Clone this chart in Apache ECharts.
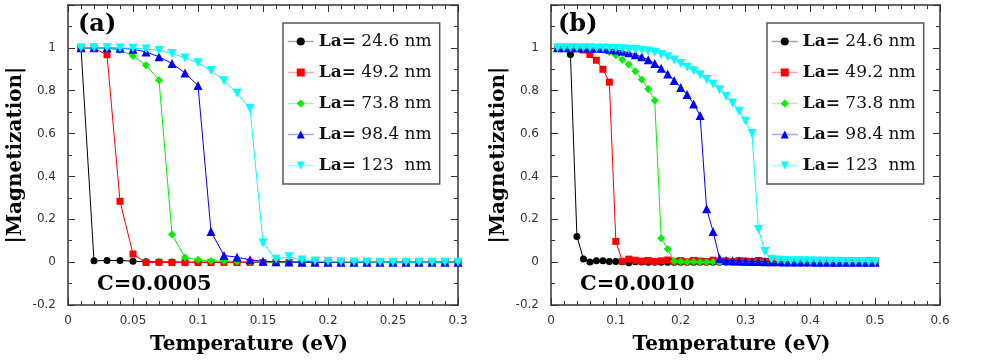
<!DOCTYPE html>
<html>
<head>
<meta charset="utf-8">
<script src="https://cdn.jsdelivr.net/npm/echarts@6/dist/echarts.min.js"></script>
<style>
  html, body { margin: 0; padding: 0; background: #fff; }
  #myChart { width: 993px; height: 360px; }
</style>
</head>
<body>
<div id="myChart"></div>
<script>
// 图例名称 (La 数值)
var sizeNames = ['24.6', '49.2', '73.8', '98.4', '123 '];

// (a) C=0.0005 温度点
var tempA = [0.01, 0.02, 0.03, 0.04, 0.05, 0.06, 0.07, 0.08, 0.09, 0.10,
             0.11, 0.12, 0.13, 0.14, 0.15, 0.16, 0.17, 0.18, 0.19, 0.20,
             0.21, 0.22, 0.23, 0.24, 0.25, 0.26, 0.27, 0.28, 0.29, 0.30];
var magA24 = [1.0, 0.006, 0.008, 0.008, 0.004, 0.002, 0.001, 0.001, 0, 0,
              0, 0, 0, 0, 0, 0, 0, 0, 0, 0,
              0, 0, 0, 0, 0, 0, 0, 0, 0, 0];
var magA49 = [1.0, 0.997, 0.968, 0.284, 0.038, -0.002, -0.001, -0.002, -0.002, -0.001,
              -0.002, -0.001, -0.002, -0.001, -0.002, -0.002, -0.001, -0.002, -0.001, -0.002,
              -0.001, -0.002, -0.001, -0.002, -0.001, -0.002, -0.002, -0.001, -0.002, -0.001];
var magA73 = [1.0, 1.0, 0.998, 0.990, 0.962, 0.919, 0.849, 0.129, 0.022, 0.011,
              0.005, 0.005, 0.003, 0.002, 0.001, 0, 0, 0, 0, 0,
              0, 0, 0, 0, 0, 0, 0, 0, 0, 0];
var magA98 = [1.0, 1.0, 1.0, 0.998, 0.994, 0.981, 0.958, 0.927, 0.883, 0.824,
              0.143, 0.031, 0.023, 0.011, 0.004, 0.002, 0.001, 0, 0, 0,
              0, 0, 0, 0, 0, 0, 0, 0, 0, 0];
var magA123 = [1.0, 1.0, 1.0, 0.999, 0.998, 0.995, 0.988, 0.974, 0.953, 0.930,
               0.894, 0.847, 0.788, 0.717, 0.089, 0.014, 0.025, 0.010, 0.005, 0.003,
               0.002, 0.001, 0.001, 0, 0, 0, 0, 0, 0, 0];

// (b) C=0.0010 温度点
var tempB = [0.01, 0.02, 0.03, 0.04, 0.05, 0.06, 0.07, 0.08, 0.09, 0.10,
             0.11, 0.12, 0.13, 0.14, 0.15, 0.16, 0.17, 0.18, 0.19, 0.20,
             0.21, 0.22, 0.23, 0.24, 0.25, 0.26, 0.27, 0.28, 0.29, 0.30,
             0.31, 0.32, 0.33, 0.34, 0.35, 0.36, 0.37, 0.38, 0.39, 0.40,
             0.41, 0.42, 0.43, 0.44, 0.45, 0.46, 0.47, 0.48, 0.49, 0.50];
var magB24 = [1.0, 0.999, 0.969, 0.120, 0.015, 0.001, 0.007, 0.006, 0.003, 0.003,
              0.002, -0.003, 0.002, 0.001, 0, 0, 0, 0, 0, 0,
              0, 0, 0, 0, 0, 0, 0, 0, 0, 0,
              0, 0, 0, 0, 0, 0, 0, 0, 0, 0,
              0, 0, 0, 0, 0, 0, 0, 0, 0, 0];
var magB49 = [1.0, 1.0, 0.999, 0.996, 0.990, 0.969, 0.942, 0.900, 0.840, 0.097,
              0.004, 0.014, 0.009, 0.005, 0.008, 0.003, 0.006, 0.010, 0.004, 0.007,
              0.002, 0.008, 0.005, 0.003, 0.009, 0.004, 0.006, 0.002, 0.007, 0.005,
              0.003, 0.008, 0.004, 0.006, 0.002, 0.007, 0.005, 0.009, 0.003, 0.006,
              0.004, 0.008, 0.002, 0.005, 0.007, 0.003, 0.006, 0.004, 0.008, 0.005];
var magB73 = [1.0, 1.0, 1.0, 1.0, 0.999, 0.998, 0.996, 0.991, 0.981, 0.965,
              0.945, 0.922, 0.891, 0.852, 0.808, 0.754, 0.112, 0.061, 0.004, 0.002,
              0.001, 0.002, 0.001, 0.001, 0.001, 0, 0, 0, 0, 0,
              0, 0, 0, 0, 0, 0, 0, 0, 0, 0,
              0, 0, 0, 0, 0, 0, 0, 0, 0, 0];
var magB98 = [1.0, 1.0, 1.0, 1.0, 0.999, 0.999, 0.998, 0.997, 0.994, 0.990,
              0.984, 0.977, 0.968, 0.958, 0.945, 0.927, 0.905, 0.878, 0.848, 0.815,
              0.782, 0.738, 0.684, 0.249, 0.143, 0.017, 0.008, 0.006, 0.005, 0.004,
              0.003, 0.003, 0.002, 0.002, 0.002, 0.001, 0.001, 0.001, 0.001, 0.001,
              0, 0, 0, 0, 0, 0, 0, 0, 0, 0];
var magB123 = [1.0, 1.0, 1.0, 1.0, 1.0, 1.0, 0.999, 0.999, 0.998, 0.997,
               0.996, 0.994, 0.992, 0.989, 0.985, 0.979, 0.969, 0.958, 0.943, 0.927,
               0.910, 0.893, 0.874, 0.852, 0.830, 0.805, 0.774, 0.743, 0.704, 0.657,
               0.600, 0.152, 0.050, 0.014, 0.010, 0.008, 0.007, 0.006, 0.006, 0.005,
               0.005, 0.004, 0.004, 0.004, 0.003, 0.003, 0.003, 0.003, 0.002, 0.002];

var colors = ['#000000', '#ff0000', '#00ee00', '#0000ff', '#00ffff'];
var symbols = ['circle', 'rect', 'diamond', 'triangle', 'triangle'];
var symbolSizes = [7, 7, 8, 9, 9];
var symbolRotates = [0, 0, 0, 0, 180];

function pairs(xs, ys) {
  var out = [];
  for (var i = 0; i < xs.length; i++) out.push([xs[i], ys[i]]);
  return out;
}

function makeSeries(idx, temps, vals, axisIdx) {
  return {
    name: sizeNames[idx],
    type: 'line',
    xAxisIndex: axisIdx,
    yAxisIndex: axisIdx,
    data: pairs(temps, vals),
    symbol: symbols[idx],
    symbolSize: symbolSizes[idx],
    symbolRotate: symbolRotates[idx],
    showAllSymbol: true,
    itemStyle: { color: colors[idx] },
    lineStyle: { color: colors[idx], width: 1 },
    z: 2 + idx
  };
}

var axisColor = '#333';
var serif = 'DejaVu Serif';

function xAxisDef(grid, max, interval, pos) {
  var bottom = pos === 'bottom';
  return {
    type: 'value', gridIndex: grid, position: pos, min: 0, max: max, interval: interval,
    name: bottom ? 'Temperature (eV)' : '',
    nameLocation: 'middle', nameGap: 30,
    nameTextStyle: { fontFamily: serif, fontWeight: 'bold', fontSize: 20, color: '#000', padding: [0, 28, 0, 0] },
    axisLine: { show: true, onZero: false, lineStyle: { color: axisColor, width: 1.5 } },
    axisTick: { show: true, inside: true, length: 7, lineStyle: { color: axisColor } },
    minorTick: { show: true, splitNumber: 5, length: 4, lineStyle: { color: axisColor } },
    axisLabel: { show: bottom, margin: 10, fontFamily: 'DejaVu Sans', fontSize: 12, color: '#333' },
    splitLine: { show: false }
  };
}

function yAxisDef(grid, pos) {
  var left = pos === 'left';
  return {
    type: 'value', gridIndex: grid, position: pos, min: -0.2, max: 1.2, interval: 0.2,
    name: left ? '|Magnetization|' : '',
    nameLocation: 'middle', nameGap: 42, nameRotate: 90,
    nameTextStyle: { fontFamily: serif, fontWeight: 'bold', fontSize: 20, color: '#000' },
    axisLine: { show: true, onZero: false, lineStyle: { color: axisColor, width: 1.5 } },
    axisTick: { show: true, inside: true, length: 7, lineStyle: { color: axisColor } },
    minorTick: { show: true, splitNumber: 2, length: 4, lineStyle: { color: axisColor } },
    axisLabel: {
      show: left, margin: 12, fontFamily: 'DejaVu Sans', fontSize: 12, color: '#333',
      formatter: function (v) { return v > 1.1 ? '' : String(v); }
    },
    splitLine: { show: false }
  };
}

function legendDef(left) {
  return {
    orient: 'vertical', left: left, top: 23,
    data: sizeNames,
    itemWidth: 26, itemHeight: 10, itemGap: 14,
    padding: [10, 8, 10, 4],
    borderColor: '#555', borderWidth: 1.5, backgroundColor: '#fff',
    lineStyle: { width: 1.5, opacity: 0.35 },
    formatter: function (name) { return '{b|La=} ' + name + ' nm'; },
    textStyle: {
      fontFamily: serif, fontSize: 17, color: '#111',
      rich: { b: { fontFamily: serif, fontWeight: 'bold', fontSize: 17, color: '#111' } }
    }
  };
}

var myChart = echarts.init(document.getElementById('myChart'));
var seriesList = [];
var valsA = [magA24, magA49, magA73, magA98, magA123];
var valsB = [magB24, magB49, magB73, magB98, magB123];
for (var i = 0; i < 5; i++) seriesList.push(makeSeries(i, tempA, valsA[i], 0));
for (var j = 0; j < 5; j++) seriesList.push(makeSeries(j, tempB, valsB[j], 2));

var option = {
  animation: false,
  backgroundColor: '#fff',
  grid: [
    { left: 68, top: 5, width: 390, height: 300 },
    { left: 551, top: 5, width: 389, height: 300 }
  ],
  xAxis: [
    xAxisDef(0, 0.3, 0.05, 'bottom'),
    xAxisDef(0, 0.3, 0.05, 'top'),
    xAxisDef(1, 0.6, 0.1, 'bottom'),
    xAxisDef(1, 0.6, 0.1, 'top')
  ],
  yAxis: [
    yAxisDef(0, 'left'),
    yAxisDef(0, 'right'),
    yAxisDef(1, 'left'),
    yAxisDef(1, 'right')
  ],
  legend: [legendDef(283), legendDef(767)],
  graphic: [
    { type: 'text', left: 78, top: 13, style: { text: '(a)', font: 'bold 24px "DejaVu Serif"', fill: '#000' } },
    { type: 'text', left: 558, top: 13, style: { text: '(b)', font: 'bold 24px "DejaVu Serif"', fill: '#000' } },
    { type: 'text', left: 97, top: 274, style: { text: 'C=0.0005', font: 'bold 21px "DejaVu Serif"', fill: '#000' } },
    { type: 'text', left: 580, top: 274, style: { text: 'C=0.0010', font: 'bold 21px "DejaVu Serif"', fill: '#000' } }
  ],
  series: seriesList
};
myChart.setOption(option);
</script>
</body>
</html>
